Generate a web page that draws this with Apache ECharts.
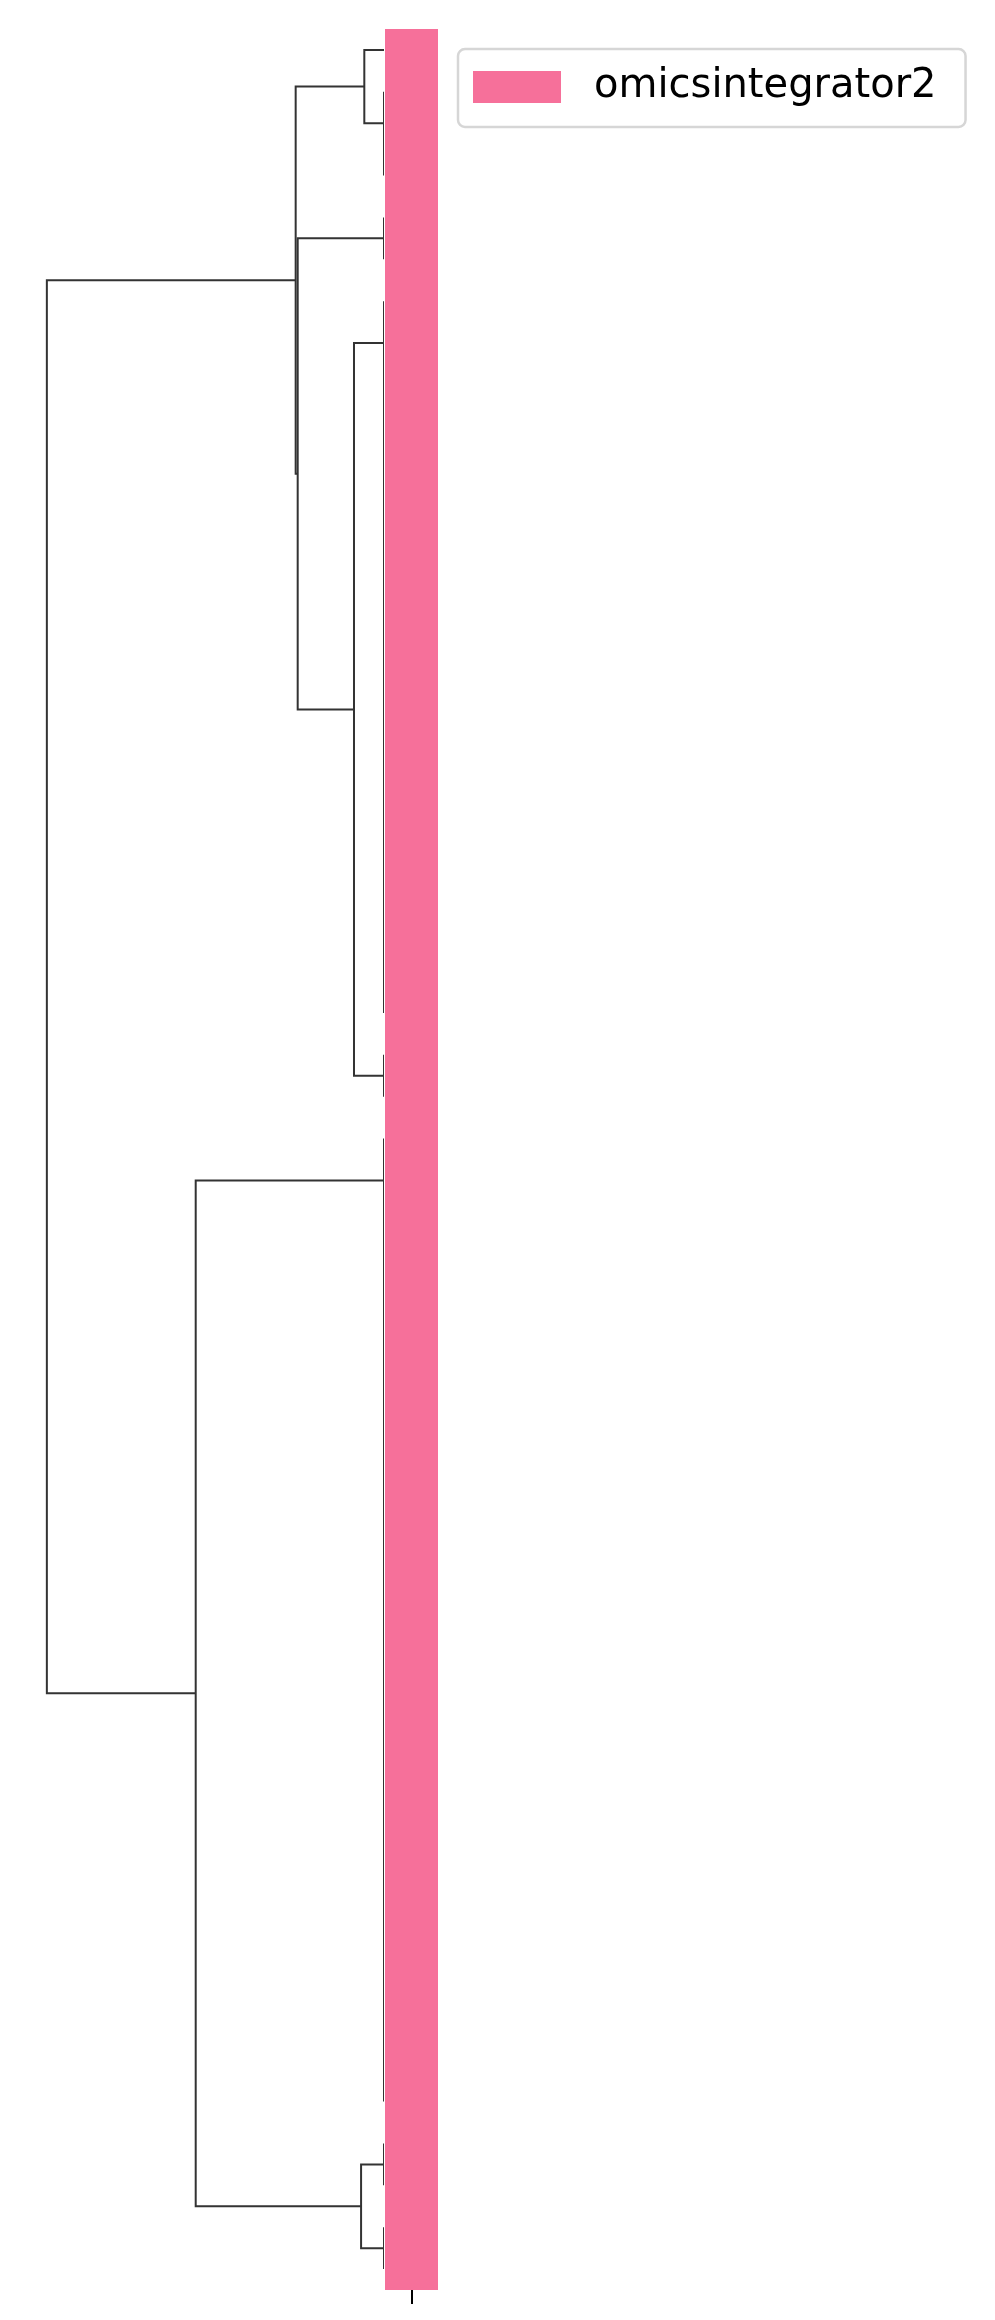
<!DOCTYPE html>
<html><head><meta charset="utf-8">
<script src="https://cdn.jsdelivr.net/npm/echarts@6/dist/echarts.min.js"></script>
<style>html,body{margin:0;padding:0;background:#fff}#c{width:995px;height:2320px}</style>
</head><body><div id="c"></div>
<script>
// ---- data ----
const seriesName = 'omicsintegrator2';
// row-colour categories in dendrogram leaf order: [category, number of consecutive leaves]
const categoryRuns = [['omicsintegrator2', 54]];
// consecutive leaf groups (in leaf order) that merge at distance 0
const leafGroupSizes = [1, 3, 2, 18, 2, 24, 2, 2];
// merges above zero: [childA, childB, height]; ids 0-7 are the leaf groups, new clusters get ids 8, 9, ...
const groupMerges = [
  [6, 7, 0.068],
  [5, 8, 0.5585],
  [3, 4, 0.089],
  [2, 10, 0.256],
  [0, 1, 0.0584],
  [12, 11, 0.262],
  [13, 9, 1.0]
];
const categoryColors = { 'omicsintegrator2': '#f6709a' };

// ---- build ----
const leafCats = [];
categoryRuns.forEach(([c, n]) => { for (let i = 0; i < n; i++) leafCats.push(c); });
const nLeaves = leafCats.length;
const links = [];
let leaf = 0;
const clusters = leafGroupSizes.map(size => {
  const first = leaf; leaf += size;
  let cur = { pos: 10 * (first + size - 1) + 5, h: 0 };
  for (let k = size - 2; k >= 0; k--) {
    const l = { pos: 10 * (first + k) + 5, h: 0 };
    links.push([l.h, l.pos, 0, cur.pos, cur.h]);
    cur = { pos: (l.pos + cur.pos) / 2, h: 0 };
  }
  return cur;
});
groupMerges.forEach(([a, b, h]) => {
  const A = clusters[a], B = clusters[b];
  links.push([A.h, A.pos, h, B.pos, B.h]);
  clusters.push({ pos: (A.pos + B.pos) / 2, h: h });
});
const leafIds = leafCats.map((c, i) => 'leaf' + i);
// contiguous blocks of same-coloured cells: [column, firstLeaf, lastLeaf, category]
const cellBlocks = [];
let start = 0;
categoryRuns.forEach(([c, n]) => { cellBlocks.push([0, start, start + n - 1, c]); start += n; });

const chart = echarts.init(document.getElementById('c'), null, { renderer: 'canvas' });
chart.setOption({
  animation: false,
  backgroundColor: '#ffffff',
  grid: [
    { left: 30, top: 29, width: 354, height: 2261 },
    { left: 385, top: 29, width: 53, height: 2261 }
  ],
  xAxis: [
    { gridIndex: 0, type: 'value', min: 0, max: 1.05, inverse: true, show: false },
    { gridIndex: 1, type: 'category', data: [''], position: 'bottom',
      axisLine: { show: false }, axisLabel: { show: false },
      axisTick: { show: true, alignWithLabel: true, length: 14, lineStyle: { color: '#000', width: 2 } } }
  ],
  yAxis: [
    { gridIndex: 0, type: 'value', min: 0, max: nLeaves * 10, inverse: true, show: false },
    { gridIndex: 1, type: 'category', data: leafIds, inverse: true, show: false }
  ],
  legend: {
    data: [{ name: seriesName, icon: 'rect' }],
    left: 458, top: 49, orient: 'vertical',
    itemWidth: 88, itemHeight: 32,
    padding: [18, 29, 20, 15],
    borderColor: '#d6d6d6', borderWidth: 2.5, borderRadius: 7,
    backgroundColor: '#ffffff',
    selectedMode: false,
    textStyle: { fontFamily: 'DejaVu Sans', fontSize: 40, color: '#000', padding: [0, 0, 0, 28] }
  },
  series: [
    {
      type: 'custom', name: 'dendrogram', xAxisIndex: 0, yAxisIndex: 0, clip: true,
      data: links, silent: true,
      renderItem: function (params, api) {
        const p = [
          api.coord([api.value(0), api.value(1)]),
          api.coord([api.value(2), api.value(1)]),
          api.coord([api.value(2), api.value(3)]),
          api.coord([api.value(4), api.value(3)])
        ];
        return { type: 'polyline', shape: { points: p }, style: { stroke: '#333333', lineWidth: 2, fill: null } };
      }
    },
    {
      type: 'custom', name: seriesName, xAxisIndex: 1, yAxisIndex: 1,
      itemStyle: { color: categoryColors[seriesName] },
      data: cellBlocks,
      renderItem: function (params, api) {
        const a = api.coord([api.value(0), api.value(1)]);
        const b = api.coord([api.value(0), api.value(2)]);
        const s = api.size([1, 1]);
        const col = categoryColors[cellBlocks[params.dataIndex][3]];
        return { type: 'rect',
                 shape: { x: a[0] - s[0] / 2, y: a[1] - s[1] / 2, width: s[0], height: b[1] - a[1] + s[1] },
                 style: { fill: col } };
      }
    }
  ]
});
</script></body></html>
